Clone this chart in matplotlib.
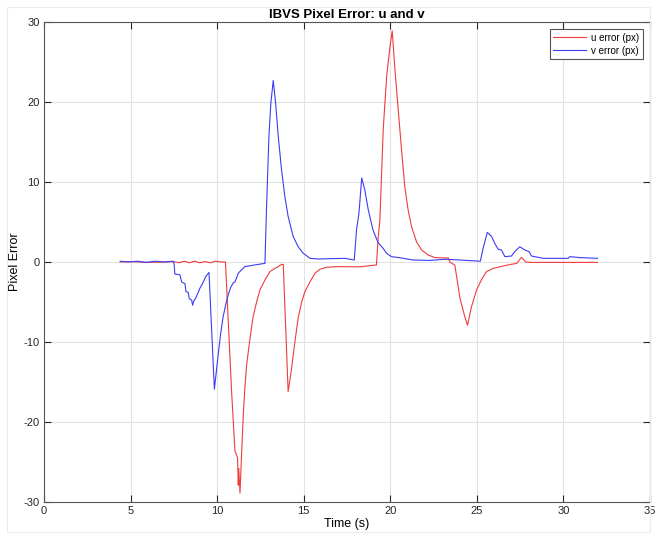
import matplotlib
matplotlib.use("Agg")
import matplotlib.pyplot as plt
from matplotlib.patches import Rectangle

plt.rcParams['font.family'] = ['Liberation Sans', 'DejaVu Sans']
plt.rcParams['axes.unicode_minus'] = False

# Time stamps (s) and horizontal pixel error (px)
t_u = [4.40, 5.00, 6.00, 7.00, 7.50, 7.80, 8.10, 8.40, 8.70, 9.00, 9.30, 9.60,
       9.90, 10.20, 10.48, 10.83, 11.03, 11.08, 11.15, 11.18, 11.22, 11.25,
       11.32, 11.41, 11.51, 11.60, 11.70, 11.90, 12.08, 12.28, 12.47, 12.76,
       13.05, 13.34, 13.53, 13.72, 13.82, 14.10, 14.30, 14.49, 14.68, 14.88,
       15.07, 15.36, 15.65, 15.94, 16.32, 16.80, 17.10, 18.24, 19.20, 19.30,
       19.40, 19.59, 19.79, 19.98, 20.11, 20.27, 20.46, 20.65, 20.84, 21.03,
       21.23, 21.52, 21.81, 22.19, 22.58, 23.35, 23.44, 23.73, 24.02, 24.30,
       24.46, 24.69, 24.98, 25.27, 25.56, 25.94, 26.72, 27.30, 27.58, 27.83,
       28.06, 31.97]
u_err = [0.00, 0.05, -0.05, 0.00, 0.05, -0.10, 0.10, -0.10, 0.10, -0.10, 0.05,
         -0.10, 0.10, 0.00, 0.00, -16.0, -23.7, -23.9, -24.3, -24.5, -27.9,
         -25.8, -28.9, -24.1, -19.1, -15.8, -12.9, -9.5, -6.8, -5.0, -3.5,
         -2.25, -1.2, -0.8, -0.58, -0.3, -0.3, -16.2, -13.3, -10.0, -7.0, -5.0,
         -3.7, -2.5, -1.4, -0.9, -0.66, -0.6, -0.58, -0.60, -0.37, 3.0, 5.25,
         16.5, 23.2, 26.9, 28.9, 24.0, 19.0, 14.0, 9.4, 6.5, 4.4, 2.5, 1.5,
         0.875, 0.55, 0.5, 0.0, -0.4, -4.5, -6.8, -7.9, -5.6, -3.5, -2.2, -1.2,
         -0.8, -0.4, -0.17, 0.58, 0.00, -0.05, -0.05]

# Time stamps (s) and vertical pixel error (px)
t_v = [4.40, 4.90, 5.40, 5.90, 6.40, 6.90, 7.45, 7.51, 7.56, 7.85, 7.95, 8.14,
       8.20, 8.33, 8.39, 8.53, 8.58, 8.65, 8.81, 9.00, 9.20, 9.35, 9.53, 9.84,
       10.07, 10.20, 10.35, 10.50, 10.64, 10.78, 10.93, 11.03, 11.22, 11.40,
       11.60, 12.08, 12.76, 12.86, 12.99, 13.10, 13.24, 13.38, 13.53, 13.72,
       13.91, 14.10, 14.39, 14.68, 14.97, 15.36, 15.84, 16.61, 17.38, 17.92,
       18.05, 18.19, 18.35, 18.53, 18.73, 19.00, 19.30, 19.59, 19.79, 20.07,
       20.50, 21.32, 22.30, 23.20, 24.00, 25.20, 25.36, 25.60, 25.85, 26.04,
       26.23, 26.42, 26.62, 27.00, 27.19, 27.48, 27.77, 28.02, 28.15, 28.83,
       30.27, 30.37, 30.95, 31.97]
v_err = [0.10, 0.00, 0.10, -0.05, 0.10, 0.00, 0.10, -0.20, -1.5, -1.6, -2.5,
         -2.7, -3.7, -3.8, -4.6, -4.75, -5.4, -4.9, -4.3, -3.3, -2.5, -1.8, -1.3,
         -15.9, -11.4, -9.0, -6.8, -5.3, -4.1, -3.2, -2.6, -2.5, -1.4, -1.0,
         -0.58, -0.4, -0.17, 7.3, 15.7, 19.8, 22.7, 19.8, 15.7, 11.5, 8.2, 5.7,
         3.2, 1.9, 1.1, 0.46, 0.375, 0.42, 0.46, 0.25, 4.0, 6.1, 10.5, 9.0, 6.5,
         4.0, 2.4, 1.7, 1.08, 0.67, 0.55, 0.25, 0.2, 0.35, 0.25, 0.10, 1.7, 3.7,
         3.2, 2.3, 1.6, 1.5, 0.67, 0.75, 1.3, 1.9, 1.5, 1.3, 0.75, 0.46, 0.46,
         0.67, 0.55, 0.46]

x_ticks = [0, 5, 10, 15, 20, 25, 30, 35]
y_ticks = [-30, -20, -10, 0, 10, 20, 30]

fig = plt.figure(figsize=(6.57, 5.36), dpi=100)
fig.patches.append(Rectangle((7 / 657, 4 / 536), 643 / 657, 525 / 536,
                             transform=fig.transFigure, fill=False,
                             edgecolor='#ececec', linewidth=0.8, zorder=0))
ax = fig.add_axes([44 / 657, 34 / 536, 606 / 657, 480 / 536])

ax.plot(t_u, u_err, color='#f03c3c', linewidth=0.8, label='u error (px)')
ax.plot(t_v, v_err, color='#3c3cf5', linewidth=0.8, label='v error (px)')

ax.set_xlim(0, 35)
ax.set_ylim(-30, 30)
ax.set_xticks(x_ticks)
ax.set_yticks(y_ticks)
ax.grid(True, color='#e3e3e3', linewidth=0.8)
ax.set_axisbelow(True)
ax.tick_params(direction='in', length=5, width=0.8, colors='#262626',
               labelsize=8, top=True, right=True, pad=3)
for s in ax.spines.values():
    s.set_color('#555555')
    s.set_linewidth(0.8)

ax.set_title('IBVS Pixel Error: u and v', fontsize=9.5, fontweight='bold', pad=3)
ax.set_xlabel('Time (s)', fontsize=9, labelpad=1)
ax.set_ylabel('Pixel Error', fontsize=9, labelpad=2)

leg = ax.legend(loc='upper right', fontsize=7, fancybox=False,
                edgecolor='#555555', framealpha=1, handlelength=3.4,
                borderpad=0.35, labelspacing=0.3, handletextpad=0.5,
                borderaxespad=0.75)
leg.get_frame().set_linewidth(0.8)

fig.savefig('out.png', dpi=100)
